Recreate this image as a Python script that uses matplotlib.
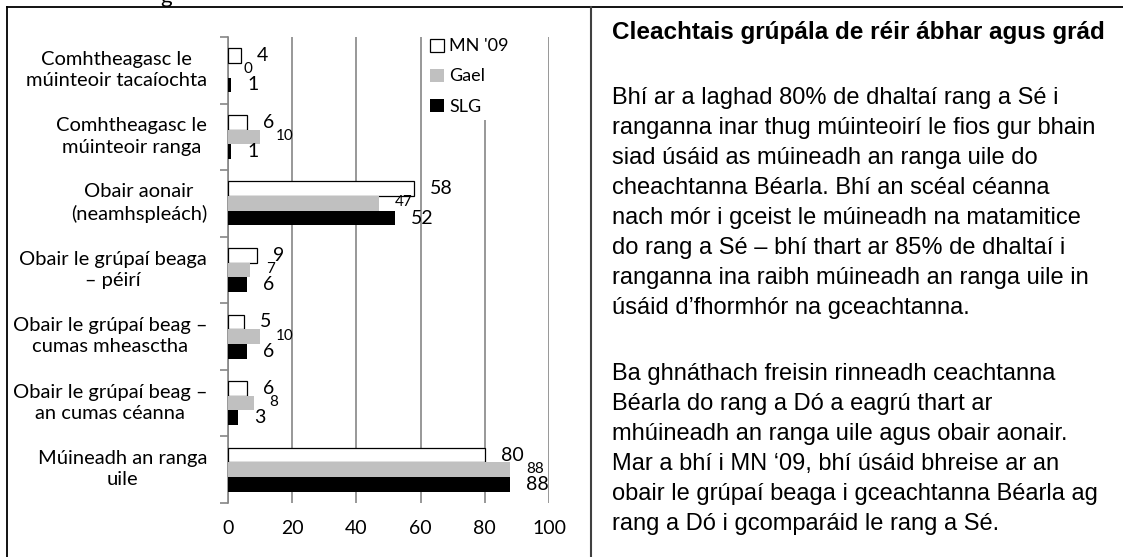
import matplotlib
matplotlib.use("Agg")
import matplotlib.pyplot as plt
from matplotlib.patches import Patch
from matplotlib.lines import Line2D
from matplotlib.transforms import ScaledTranslation

# categories from bottom to top
categories = [
    "Múineadh an ranga\nuile",
    "Obair le grúpaí beag –\nan cumas céanna",
    "Obair le grúpaí beag –\ncumas mheasctha",
    "Obair le grúpaí beaga\n– péirí",
    "Obair aonair\n(neamhspleách)",
    "Comhtheagasc le\nmúinteoir ranga",
    "Comhtheagasc le\nmúinteoir tacaíochta",
]
mn09 = [80, 6, 5, 9, 58, 6, 4]
gael = [88, 8, 10, 7, 47, 10, 0]
slg = [88, 3, 6, 6, 52, 1, 1]
series_names = ["MN '09", "Gael", "SLG"]
x_ticks = [0, 20, 40, 60, 80, 100]

title = "Cleachtais grúpála de réir ábhar agus grád"
para1 = [
    "Bhí ar a laghad 80% de dhaltaí rang a Sé i",
    "ranganna inar thug múinteoirí le fios gur bhain",
    "siad úsáid as múineadh an ranga uile do",
    "cheachtanna Béarla. Bhí an scéal céanna",
    "nach mór i gceist le múineadh na matamitice",
    "do rang a Sé – bhí thart ar 85% de dhaltaí i",
    "ranganna ina raibh múineadh an ranga uile in",
    "úsáid d’fhormhór na gceachtanna.",
]
para2 = [
    "Ba ghnáthach freisin rinneadh ceachtanna",
    "Béarla do rang a Dó a eagrú thart ar",
    "mhúineadh an ranga uile agus obair aonair.",
    "Mar a bhí i MN ‘09, bhí úsáid bhreise ar an",
    "obair le grúpaí beaga i gceachtanna Béarla ag",
    "rang a Dó i gcomparáid le rang a Sé.",
]

W, H = 1123, 557
fig = plt.figure(figsize=(W / 100, H / 100), dpi=100)
chart_font = "Lato"
text_font = "Liberation Sans"
grid_col = "#868686"

ax = fig.add_axes([228 / W, 1 - 503 / H, (549 - 228) / W, (503 - 37) / H])

h = 0.22
y = list(range(len(categories)))
ax.barh([v + h for v in y], mn09, height=h, color="white", edgecolor="black", linewidth=0.9, zorder=3)
ax.barh(y, gael, height=h, color="#c0c0c0", edgecolor="none", zorder=3)
ax.barh([v - h for v in y], slg, height=h, color="black", edgecolor="none", zorder=3)

for i in y:
    ax.annotate(str(mn09[i]), (mn09[i], i + h), xytext=(16, 0), textcoords="offset pixels",
                ha="left", va="center", fontsize=14, family=chart_font, zorder=4)
    ax.annotate(str(gael[i]), (gael[i], i), xytext=(16, 1), textcoords="offset pixels",
                ha="left", va="center", fontsize=11, family=chart_font, zorder=4)
    ax.annotate(str(slg[i]), (slg[i], i - h), xytext=(16, 0), textcoords="offset pixels",
                ha="left", va="center", fontsize=14, family=chart_font, zorder=4)

ax.set_xlim(0, 100)
ax.set_ylim(-0.5, len(categories) - 0.5)
ax.set_xticks(x_ticks)
ax.set_xticklabels([str(t) for t in x_ticks], family=chart_font, fontsize=14)
ax.set_yticks(y)
ax.set_yticklabels(categories, family=chart_font, fontsize=14.5, multialignment="center",
                   linespacing=1.3)
ax.set_yticks([v - 0.5 for v in range(len(categories) + 1)], minor=True)
ax.tick_params(axis="y", which="major", length=0, pad=15)
ax.tick_params(axis="y", which="minor", length=6, color=grid_col, width=1.2)
ax.tick_params(axis="x", length=0, pad=12)
ax.grid(axis="x", color=grid_col, linewidth=1.2, zorder=0)
for s in ["top", "right", "bottom"]:
    ax.spines[s].set_visible(False)
ax.spines["left"].set_color(grid_col)
ax.spines["left"].set_linewidth(1.2)

# labels sit a little above the category centre
shift = ScaledTranslation(0, 4 / 100, fig.dpi_scale_trans)
for lab in ax.get_yticklabels():
    lab.set_transform(lab.get_transform() + shift)

handles = [
    Patch(facecolor="white", edgecolor="black", linewidth=0.9),
    Patch(facecolor="#c0c0c0", edgecolor="none"),
    Patch(facecolor="black", edgecolor="none"),
]
leg = fig.legend(handles, series_names, loc="upper left", bbox_to_anchor=(425 / W, 1 - 33 / H),
                 frameon=True, facecolor="white", edgecolor="none", framealpha=1,
                 prop={"family": chart_font, "size": 13}, handlelength=0.75, handleheight=0.75,
                 handletextpad=0.3, labelspacing=0.78, borderpad=0.3, borderaxespad=0)
leg.set_zorder(5)

# panel frames
fig.add_artist(Line2D([7 / W, 1], [1 - 7 / H, 1 - 7 / H], color="black", linewidth=1.3))
fig.add_artist(Line2D([7 / W, 7 / W], [0, 1 - 7 / H], color="black", linewidth=1.3))
fig.add_artist(Line2D([591 / W, 591 / W], [0, 1 - 7 / H], color="#404040", linewidth=1.5))

# cut-off glyph at the top edge
fig.text(160 / W, 1 - 3 / H, "g", family=chart_font, fontsize=16, ha="left", va="baseline")

# right-hand text
fig.text(612 / W, 1 - 32 / H, title, family=text_font, fontsize=17.5, weight="bold", va="center")
for k, line in enumerate(para1):
    fig.text(612 / W, 1 - (98 + 30 * k) / H, line, family=text_font, fontsize=17, va="center")
for k, line in enumerate(para2):
    fig.text(612 / W, 1 - (374 + 30 * k) / H, line, family=text_font, fontsize=17, va="center")

fig.savefig("out.png", dpi=100)
